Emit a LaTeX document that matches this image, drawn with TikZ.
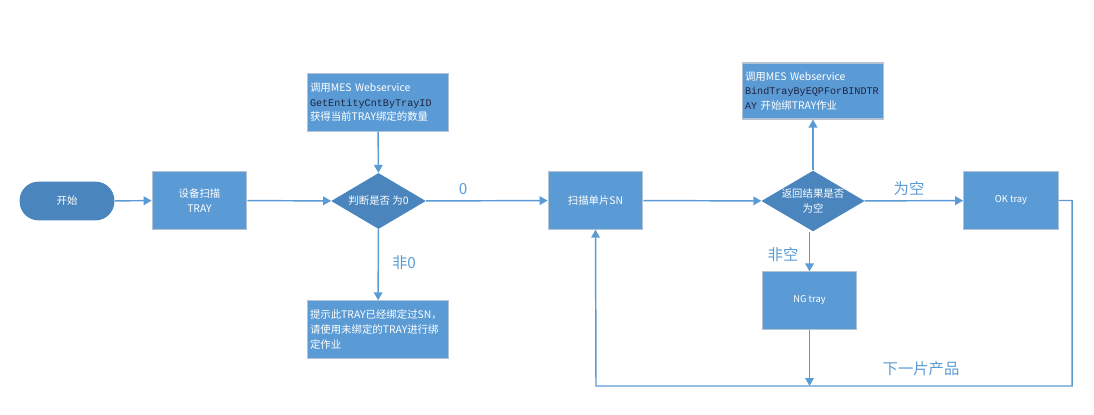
\documentclass[tikz,border=0pt]{standalone}
\usepackage{fontspec}
\setmainfont{Noto Sans CJK SC}
\newfontfamily\codefont{Liberation Mono}
\usetikzlibrary{shapes.geometric,arrows.meta}
\definecolor{boxblue}{HTML}{5B9BD5}
\definecolor{darkblue}{HTML}{4A86BD}
\definecolor{edgegray}{HTML}{B4C2D3}
\definecolor{codeink}{HTML}{1E2440}
\newcommand{\apiname}[1]{{\codefont\fontsize{7.6}{10.9}\selectfont\color{codeink}#1}}

\begin{document}
\begin{tikzpicture}[x=0.75pt,y=-0.75pt]
  \tikzset{box/.style={draw=edgegray,line width=0.8pt,fill=boxblue,text=white,
             minimum width=71pt,minimum height=43pt,inner sep=2pt,align=center,
             font=\fontsize{7.8}{10.9}\selectfont},
           note/.style={box,text width=102pt,align=left},
           decide/.style={diamond,fill=darkblue,text=white,aspect=1.7,inner sep=0pt,
             minimum width=71pt,minimum height=42pt,align=center,
             font=\fontsize{7.8}{10.9}\selectfont},
           flow/.style={draw=boxblue,line width=1.1pt,-{Triangle[width=6.5pt,length=6pt]}},
           tag/.style={text=boxblue,font=\fontsize{11.5}{12}\selectfont}}
  \useasboundingbox (0,0) rectangle (1094,414);

  % nodes
  \node[box,draw=none,fill=darkblue,rounded corners=14pt,minimum height=29pt] (start) at (67,201) {开始};
  \node[box] (scan) at (199.5,200.5) {设备扫描\\TRAY};
  \node[decide] (judge) at (378.5,201) {判断是否 为0};
  \node[note] (query) at (378,102.5) {调用MES Webservice\\\apiname{GetEntityCntByTrayID}\\获得当前TRAY绑定的数量};
  \node[note] (warn) at (378,329.5) {提示此TRAY已经绑定过SN，\\请使用未绑定的TRAY进行绑\\定作业};
  \node[box] (scansn) at (595.5,200.5) {扫描单片SN};
  \node[decide] (check) at (813,201) {返回结果是否\\为空};
  \node[note,minimum height=42pt] (bind) at (813,91) {调用MES Webservice\\\apiname{BindTrayByEQPForBINDTR}\\\apiname{AY} 开始绑TRAY作业};
  \node[box,font=\fontsize{7}{9}\selectfont] (ok) at (1011,200.5) {OK tray};
  \node[box,font=\fontsize{7}{9}\selectfont] (ng) at (809.5,300.5) {NG tray};

  \coordinate (rt) at (1072,386);
  \coordinate (lt) at (596,386);
  \coordinate (mid) at (809.5,386);

  % labels
  \node[tag] (zero) at (463,189) {0};
  \node[tag] (nonzero) at (404,263) {非0};
  \node[tag] (empty) at (909,189) {为空};
  \node[tag] (notempty) at (783,255) {非空};
  \node[tag] (next) at (921,369) {下一片产品};

  % edges
  \draw[flow] (start) -- (scan);
  \draw[flow] (scan) -- (judge);
  \draw[flow] (query) -- (judge);
  \draw[flow] (judge) -- (warn);
  \draw[flow] (judge) -- (scansn);
  \draw[flow] (scansn) -- (check);
  \draw[flow] (check) -- (bind);
  \draw[flow] (check) -- (ok);
  \draw[flow] (check.south -| ng) -- (ng);
  \draw[flow] (ng) -- (mid);
  \draw[flow] (ok.east) -| (rt) -- (lt) -- (scansn.south);
\end{tikzpicture}
\end{document}
